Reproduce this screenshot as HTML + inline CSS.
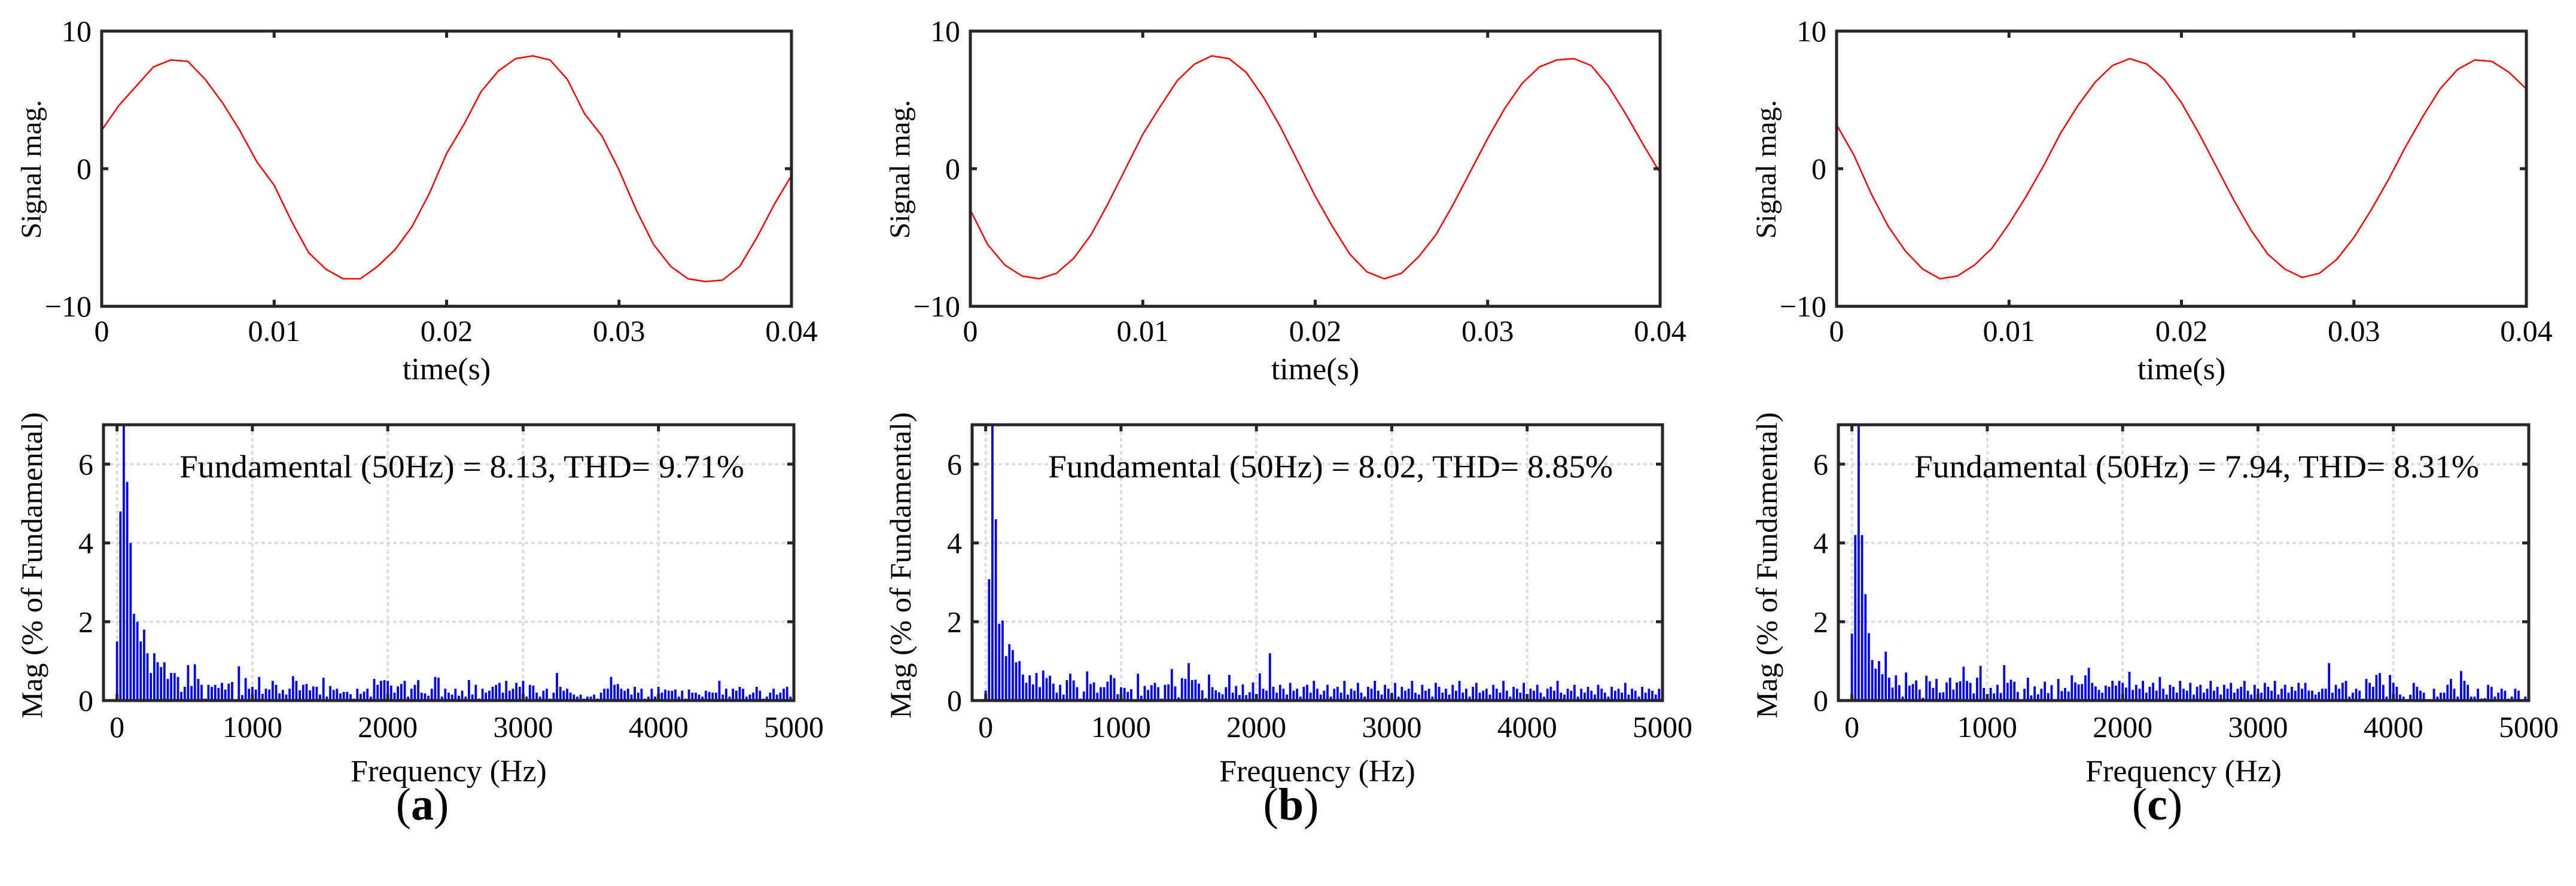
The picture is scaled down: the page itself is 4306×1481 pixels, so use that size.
<!DOCTYPE html>
<html><head><meta charset="utf-8"><style>
html,body{margin:0;padding:0;background:#fff;}
svg{display:block;}
svg text{font-family:"Liberation Serif","Times New Roman",serif;}
</style></head><body>
<svg id="fig" width="4306" height="1481" viewBox="0 0 4306 1481" xmlns="http://www.w3.org/2000/svg" font-family="Liberation Serif, serif"></svg>
<script>
// ---- data ----
const timeTicks = [0, 0.01, 0.02, 0.03, 0.04];
const timeTickLabels = ["0", "0.01", "0.02", "0.03", "0.04"];
const sigTicks = [-10, 0, 10];
const sigTickLabels = ["\u221210", "0", "10"];
const freqTicks = [0, 1000, 2000, 3000, 4000, 5000];
const freqTickLabels = ["0", "1000", "2000", "3000", "4000", "5000"];
const magTicks = [0, 2, 4, 6];
const magTickLabels = ["0", "2", "4", "6"];
const sampleStep = 0.001;
const harmStep = 25;
const panelLetters = ["a", "b", "c"];
const annotations = ["Fundamental (50Hz) = 8.13, THD= 9.71%", "Fundamental (50Hz) = 8.02, THD= 8.85%", "Fundamental (50Hz) = 7.94, THD= 8.31%"];

const sigA = [2.8,4.6,6.0,7.4,7.9,7.8,6.5,4.8,2.8,0.5,-1.2,-3.8,-6.1,-7.3,-8.0,-8.0,-7.1,-5.9,-4.2,-1.8,1.1,3.2,5.6,7.1,8.0,8.2,7.9,6.5,4.0,2.4,-0.1,-3.0,-5.5,-7.1,-8.0,-8.2,-8.1,-7.1,-5.0,-2.6,-0.5];
const sigB = [-3.0,-5.5,-7.0,-7.8,-8.0,-7.6,-6.5,-4.8,-2.5,0.0,2.5,4.5,6.4,7.6,8.2,8.0,7.0,5.2,3.0,0.5,-2.0,-4.2,-6.2,-7.5,-8.0,-7.6,-6.4,-4.8,-2.6,-0.2,2.2,4.4,6.2,7.4,7.9,8.0,7.5,6.0,4.0,1.8,-0.3];
const sigC = [3.2,1.0,-1.8,-4.2,-6.0,-7.3,-8.0,-7.8,-7.0,-5.8,-4.0,-2.0,0.2,2.6,4.6,6.3,7.5,8.0,7.6,6.5,4.8,2.6,0.2,-2.2,-4.4,-6.2,-7.3,-7.9,-7.6,-6.6,-5.0,-3.0,-0.8,1.6,3.8,5.8,7.2,7.9,7.8,7.0,5.8];

const harmA = [1.5,4.8,100,5.55,4.0,2.2,2.0,1.5,1.8,1.2,0.7,1.2,0.97,0.85,0.97,0.55,0.7,0.7,0.6,0.22,0.35,0.9,0.37,0.92,0.55,0.4,0.05,0.4,0.35,0.4,0.32,0.45,0.28,0.43,0.47,0.03,0.87,0.14,0.57,0.3,0.35,0.28,0.6,0.17,0.3,0.28,0.5,0.4,0.18,0.27,0.15,0.3,0.62,0.5,0.26,0.4,0.42,0.26,0.36,0.35,0.15,0.58,0.1,0.37,0.27,0.3,0.18,0.22,0.22,0.16,0.05,0.3,0.17,0.23,0.3,0.1,0.55,0.4,0.5,0.52,
0.5,0.38,0.2,0.36,0.42,0.5,0.1,0.3,0.4,0.52,0.2,0.18,0.12,0.3,0.6,0.58,0.1,0.3,0.2,0.15,0.3,0.12,0.25,0.1,0.52,0.15,0.4,0.05,0.3,0.2,0.25,0.35,0.4,0.45,0.2,0.5,0.25,0.3,0.45,0.35,0.5,0.1,0.4,0.38,0.2,0.1,0.25,0.3,0.05,0.2,0.7,0.35,0.25,0.3,0.2,0.15,0.1,0.15,0.05,0.1,0.1,0.15,0.05,0.2,0.3,0.3,0.6,0.4,0.42,0.3,0.25,0.3,0.15,0.35,0.2,0.3,0.05,0.1,0.3,0.1,0.35,0.2,0.28,0.25,0.25,0.28,0.1,0.25,0.05,0.28,0.2,0.2,0.15,0.1,0.25,0.22,0.2,0.2,0.5,0.15,0.3,0.1,0.3,0.25,0.35,0.3,0.1,0.15,0.2,0.35,0.25,0.05,0.1,0.2,0.3,0.15,0.2,0.3,0.35,0.1,0.2];
const harmB = [0.25,3.08,100,4.6,1.95,2.03,1.13,1.43,1.28,0.97,1.0,0.66,0.45,0.64,0.41,0.7,0.34,0.76,0.57,0.63,0.43,0.2,0.4,0.15,0.52,0.68,0.51,0.34,0.05,0.23,0.74,0.42,0.46,0.2,0.34,0.34,0.48,0.65,0.57,0.16,0.34,0.32,0.22,0.29,0.03,0.68,0.12,0.37,0.27,0.39,0.45,0.34,0.05,0.4,0.41,0.8,0.36,0.08,0.57,0.55,0.95,0.52,0.53,0.43,0.26,0.06,0.66,0.34,0.26,0.21,0.16,0.34,0.65,0.2,0.37,0.14,0.41,0.14,0.21,0.46,
0.1,0.69,0.3,0.25,1.2,0.35,0.2,0.4,0.3,0.15,0.45,0.25,0.3,0.1,0.35,0.4,0.2,0.5,0.3,0.15,0.25,0.4,0.1,0.3,0.35,0.2,0.5,0.15,0.3,0.25,0.45,0.2,0.1,0.35,0.3,0.5,0.25,0.15,0.4,0.3,0.2,0.45,0.1,0.35,0.25,0.3,0.5,0.2,0.15,0.4,0.25,0.3,0.1,0.45,0.35,0.2,0.3,0.15,0.4,0.25,0.5,0.2,0.3,0.1,0.35,0.45,0.2,0.25,0.3,0.15,0.4,0.3,0.2,0.5,0.25,0.1,0.35,0.3,0.2,0.45,0.15,0.3,0.25,0.4,0.2,0.1,0.3,0.35,0.25,0.5,0.2,0.15,0.3,0.25,0.4,0.1,0.3,0.2,0.35,0.25,0.15,0.4,0.3,0.2,0.1,0.35,0.25,0.3,0.2,0.45,0.15,0.3,0.25,0.1,0.35,0.2,0.3,0.25,0.15,0.3,0.2];
const harmC = [1.7,4.2,100,4.2,2.7,1.71,1.03,0.81,1.0,0.67,1.24,0.58,0.33,0.64,0.39,0.1,0.71,0.38,0.42,0.51,0.28,0.07,0.63,0.49,0.32,0.55,0.2,0.21,0.46,0.58,0.28,0.46,0.49,0.86,0.5,0.45,0.18,0.58,0.88,0.32,0.0,0.32,0.18,0.4,0.19,0.9,0.45,0.53,0.48,0.22,0.03,0.3,0.58,0.13,0.36,0.16,0.3,0.48,0.19,0.39,0.0,0.55,0.24,0.32,0.23,0.64,0.46,0.41,0.42,0.64,0.83,0.45,0.36,0.27,0.2,0.38,0.35,0.5,0.38,0.5,
0.45,0.33,0.73,0.27,0.4,0.3,0.5,0.2,0.35,0.45,0.25,0.6,0.3,0.15,0.4,0.35,0.2,0.5,0.3,0.25,0.45,0.15,0.35,0.4,0.2,0.3,0.5,0.25,0.35,0.15,0.4,0.3,0.45,0.2,0.3,0.35,0.5,0.25,0.15,0.4,0.3,0.2,0.45,0.35,0.25,0.5,0.15,0.3,0.4,0.2,0.35,0.25,0.45,0.3,0.45,0.25,0.25,0.15,0.22,0.3,0.3,0.95,0.2,0.4,0.3,0.45,0.5,0.1,0.2,0.3,0.25,0.05,0.55,0.45,0.35,0.65,0.7,0.4,0.1,0.65,0.45,0.35,0.15,0.1,0.0,0.15,0.45,0.35,0.25,0.2,0.0,0.0,0.3,0.1,0.2,0.2,0.4,0.55,0.3,0.1,0.75,0.5,0.4,0.1,0.1,0.3,0.05,0.06,0.4,0.35,0.1,0.2,0.3,0.25,0.05,0.1,0.3,0.25,0.0,0.1,0.15,0.1,0.4,0.25,0.15,0.45,0.3,0.55,0.1,0.4,0.1,0.25,0.0,0.15,0.1,0.2,0.15,0.0,0.05,0.15,0.1];

const signals = [sigA, sigB, sigC];
const harmonics = [harmA, harmB, harmC];

// ---- layout ----
const NS = "http://www.w3.org/2000/svg";
const svg = document.getElementById("fig");
const panelOffsets = [0, 1452, 2900];
const TOP = {l:170, r:1323, t:52, b:512};
const BOT = {l:173, r:1327, t:710, b:1171};
const AX = "#262626";
const SERIF = "Liberation Serif, serif";
function el(tag, attrs, parent) {
  const e = document.createElementNS(NS, tag);
  for (const k in attrs) e.setAttribute(k, attrs[k]);
  (parent || svg).appendChild(e);
  return e;
}
function txt(s, attrs, parent) { attrs["font-family"] = SERIF; const t = el("text", attrs, parent); t.textContent = s; return t; }

panelOffsets.forEach((off, p) => {
  const g = el("g", {});
  
  

  // ---------- top: time signal ----------
  const tl = TOP.l + off, tr = TOP.r + off;
  const xT = t => tl + (t - 0) / 0.04 * (tr - tl);
  const yT = v => TOP.b - (v + 10) / 20 * (TOP.b - TOP.t);
  const tg = el("g", {}, g);
  
  
  const d = signals[p].map((v, i) => (i ? "L" : "M") + xT(i * sampleStep).toFixed(1) + " " + yT(v).toFixed(1)).join(" ");
  const line = el("path", {d: d, fill: "none", stroke: "#ff0000", "stroke-width": 2.5, "stroke-linejoin": "round"}, tg);
  
  
  timeTicks.forEach((t, i) => {
    const x = xT(t);
    el("line", {x1:x, x2:x, y1:TOP.b, y2:TOP.b - 11, stroke:AX, "stroke-width":5}, tg);
    el("line", {x1:x, x2:x, y1:TOP.t, y2:TOP.t + 11, stroke:AX, "stroke-width":5}, tg);
    const lb = txt(timeTickLabels[i], {x:x, y:570, "font-size":50, "text-anchor":"middle"}, tg);
    
    
  });
  sigTicks.forEach((v, i) => {
    const y = yT(v);
    el("line", {x1:tl, x2:tl + 11, y1:y, y2:y, stroke:AX, "stroke-width":5}, tg);
    el("line", {x1:tr, x2:tr - 11, y1:y, y2:y, stroke:AX, "stroke-width":5}, tg);
    const lb = txt(sigTickLabels[i], {x:tl - 17, y:y + 17, "font-size":50, "text-anchor":"end"}, tg);
    
    
  });
  el("rect", {x:tl, y:TOP.t, width:tr - tl, height:TOP.b - TOP.t, fill:"none", stroke:AX, "stroke-width":5}, tg);
  const xl = txt("time(s)", {x:(tl + tr) / 2, y:634, "font-size":52, "text-anchor":"middle"}, tg);
  
  
  const yl = txt("Signal mag.", {x:0, y:0, "font-size":48, "text-anchor":"middle", textLength:232, lengthAdjust:"spacingAndGlyphs", transform:"translate(" + (off + 68) + ",283) rotate(-90)"}, tg);
  
  

  // ---------- bottom: harmonic spectrum ----------
  const bl = BOT.l + off, br = BOT.r + off;
  const xF = f => bl + (f + 100) / 5100 * (br - bl);
  const yM = v => BOT.b - v / 7 * (BOT.b - BOT.t);
  const bg = el("g", {}, g);
  
  
  freqTicks.forEach(f => el("line", {x1:xF(f), x2:xF(f), y1:BOT.t, y2:BOT.b, stroke:"#dcdcdc", "stroke-width":4, "stroke-dasharray":"6 5"}, bg));
  magTicks.forEach(v => { if (v > 0) el("line", {x1:bl, x2:br, y1:yM(v), y2:yM(v), stroke:"#dcdcdc", "stroke-width":4, "stroke-dasharray":"6 5"}, bg); });
  const cp = el("clipPath", {id:"clip" + p}, bg);
  el("rect", {x:bl, y:BOT.t, width:br - bl, height:BOT.b - BOT.t}, cp);
  const bars = el("g", {"clip-path":"url(#clip" + p + ")"}, bg);
  harmonics[p].forEach((v, i) => {
    const f = i * harmStep;
    const y = yM(v);
    const r = el("rect", {x:(xF(f) - 1.9).toFixed(1), y:y.toFixed(1), width:3.8, height:Math.max(0, BOT.b - y).toFixed(1), fill:"#0000ff"}, bars);
    
    
  });
  freqTicks.forEach((f, i) => {
    const x = xF(f);
    el("line", {x1:x, x2:x, y1:BOT.b, y2:BOT.b - 11, stroke:AX, "stroke-width":5}, bg);
    el("line", {x1:x, x2:x, y1:BOT.t, y2:BOT.t + 11, stroke:AX, "stroke-width":5}, bg);
    const lb = txt(freqTickLabels[i], {x:x, y:1232, "font-size":50, "text-anchor":"middle"}, bg);
    
    
  });
  magTicks.forEach((v, i) => {
    const y = yM(v);
    el("line", {x1:bl, x2:bl + 11, y1:y, y2:y, stroke:AX, "stroke-width":5}, bg);
    el("line", {x1:br, x2:br - 11, y1:y, y2:y, stroke:AX, "stroke-width":5}, bg);
    const lb = txt(magTickLabels[i], {x:bl - 17, y:y + 17, "font-size":50, "text-anchor":"end"}, bg);
    
    
  });
  el("rect", {x:bl, y:BOT.t, width:br - bl, height:BOT.b - BOT.t, fill:"none", stroke:AX, "stroke-width":5}, bg);
  const an = txt(annotations[p], {x:off + 300, y:798, "font-size":54, textLength:944, lengthAdjust:"spacingAndGlyphs"}, bg);
  
  
  const fx = txt("Frequency (Hz)", {x:(bl + br) / 2, y:1306, "font-size":52, "text-anchor":"middle"}, bg);
  
  
  const fy = txt("Mag (% of Fundamental)", {x:0, y:0, "font-size":50, "text-anchor":"middle", textLength:512, lengthAdjust:"spacingAndGlyphs", transform:"translate(" + (off + 70) + ",945) rotate(-90)"}, bg);
  
  

  // panel letter
  const pl = el("text", {x:off + 706, y:1370, "font-size":76, "text-anchor":"middle", "font-family":SERIF}, g);
  
  
  const s1 = el("tspan", {}, pl); s1.textContent = "(";
  const s2 = el("tspan", {"font-weight":"bold"}, pl); s2.textContent = panelLetters[p];
  const s3 = el("tspan", {}, pl); s3.textContent = ")";
});
</script>
</body></html>
